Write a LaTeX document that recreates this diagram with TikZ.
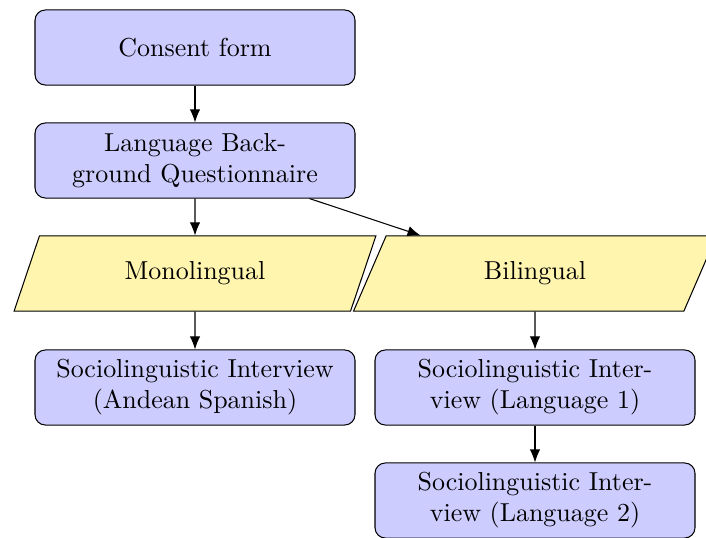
\documentclass[tikz,border=0pt]{standalone}
\usetikzlibrary{shapes.geometric,arrows.meta}
\definecolor{boxblue}{HTML}{CCCCFF}
\definecolor{paryellow}{HTML}{FFF5AF}
\begin{document}
\begin{tikzpicture}[x=0.385pt,y=-0.385pt,
  procbox/.style={draw=black,fill=boxblue,rounded corners=4pt,minimum width=123.2pt,minimum height=28.9pt,align=center,inner sep=2pt},
  databox/.style={draw=black,fill=paryellow,shape=trapezium,trapezium left angle=70,trapezium right angle=110,trapezium stretches=true,minimum width=140.1pt,minimum height=28.9pt,inner sep=2pt},
  flow/.style={-{Latex[length=5pt,width=4pt]}}]
\useasboundingbox (0,0) rectangle (706,538);
\node[procbox] (consent) at (195,47.5) {Consent form};
\node[procbox] (lbq) at (195,160.5) {Language Back-\\ground Questionnaire};
\node[databox] (mono) at (195,273.5) {Monolingual};
\node[databox] (bi) at (535,273.5) {Bilingual};
\node[procbox] (sia) at (195,387.5) {Sociolinguistic Interview\\(Andean Spanish)};
\node[procbox] (sib) at (535,387.5) {Sociolinguistic Inter-\\view (Language 1)};
\node[procbox] (sic) at (535,500.5) {Sociolinguistic Inter-\\view (Language 2)};
\draw[flow] (consent) -- (lbq);
\draw[flow] (lbq) -- (mono);
\draw[flow] (lbq) -- (bi);
\draw[flow] (mono) -- (sia);
\draw[flow] (bi) -- (sib);
\draw[flow] (sib) -- (sic);
\end{tikzpicture}
\end{document}
